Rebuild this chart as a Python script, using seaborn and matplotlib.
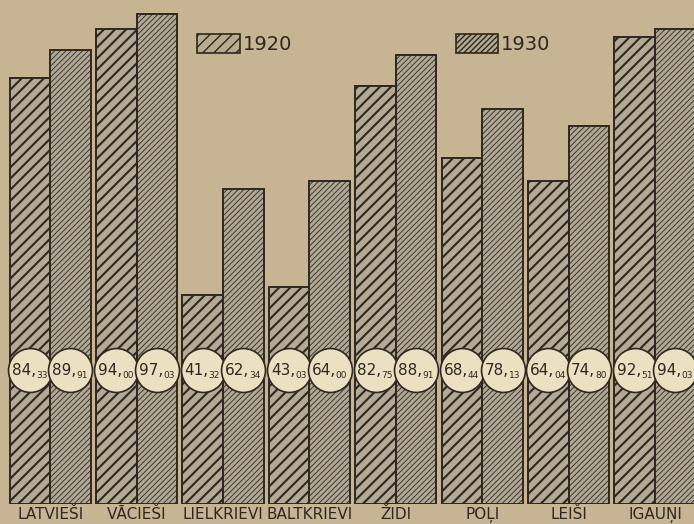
import pandas as pd
import matplotlib.pyplot as plt
import seaborn as sns
from matplotlib.patches import Patch

tautas = ['LATVIEŠI', 'VĀCIEŠI', 'LIELKRIEVI', 'BALTKRIEVI', 'ŽIDI', 'POĻI', 'LEIŠI', 'IGAUŅI']
gads_1920 = [84.33, 94.00, 41.32, 43.03, 82.75, 68.44, 64.04, 92.51]
gads_1930 = [89.91, 97.03, 62.34, 64.00, 88.91, 78.13, 74.80, 94.03]
gadi = ['1920', '1930']

df = pd.DataFrame({
    'tauta': tautas * 2,
    'pct': gads_1920 + gads_1930,
    'gads': ['1920'] * len(tautas) + ['1930'] * len(tautas),
})

bg = '#c6b493'
ink = '#2e2820'
fill_1920 = '#b8ab90'
fill_1930 = '#b4a991'
hatch_lw = {'1920': 1.5, '1930': 0.6}
hatches = {'1920': '///', '1930': '//////'}


def style_hatch(p, year):
    p.set_hatch(hatches[year])
    try:
        p.set_hatch_linewidth(hatch_lw[year])
    except AttributeError:
        pass


sns.set_style('white')
plt.rcParams['font.family'] = ['Liberation Sans Narrow', 'DejaVu Sans']

fig = plt.figure(figsize=(6.94, 5.24), dpi=100, facecolor=bg)
ax = fig.add_axes([0, 0.038, 1, 0.962])
ax.set_facecolor(bg)

sns.barplot(data=df, x='tauta', y='pct', hue='gads', order=tautas, hue_order=gadi,
            width=0.94, palette=[fill_1920, fill_1930], edgecolor=ink, linewidth=1.4,
            legend=False, ax=ax, errorbar=None)

n = len(tautas)
for i, p in enumerate(ax.patches[:2 * n]):
    style_hatch(p, '1920' if i < n else '1930')

# value bubbles
for i in range(n):
    for j, vals in enumerate([gads_1920, gads_1930]):
        x = i + (j - 0.5) * 0.47
        ax.scatter([x], [26.5], s=1000, color='#ece0c2', edgecolor=ink, linewidth=1.2, zorder=5)
        whole, dec = f'{vals[i]:.2f}'.split('.')
        ax.text(x + 0.07, 26.5, whole + ',', ha='right', va='center', fontsize=11,
                color=ink, zorder=6, fontfamily='DejaVu Sans')
        ax.text(x + 0.07, 25.4, dec, ha='left', va='center', fontsize=6.5,
                color=ink, zorder=6, fontfamily='DejaVu Sans')

ax.set_xlim(-0.58, 7.45)
ax.set_ylim(0, 99.8)
ax.set_xlabel('')
ax.set_ylabel('')
ax.set_yticks([])
ax.tick_params(axis='x', length=0, pad=2, labelsize=11, colors=ink)
sns.despine(ax=ax, left=True, bottom=True)

handles = [Patch(facecolor=fill_1920, edgecolor=ink, linewidth=1.2),
           Patch(facecolor=fill_1930, edgecolor=ink, linewidth=1.2)]
for h, y in zip(handles, gadi):
    style_hatch(h, y)
leg = ax.legend(handles, gadi, ncol=2, frameon=False, loc='upper left',
                bbox_to_anchor=(0.259, 0.968), handlelength=2.2, handleheight=1.15,
                handletextpad=0.15, columnspacing=8.4, fontsize=14)
for t in leg.get_texts():
    t.set_color(ink)

fig.savefig('out.png', dpi=100, facecolor=bg)
